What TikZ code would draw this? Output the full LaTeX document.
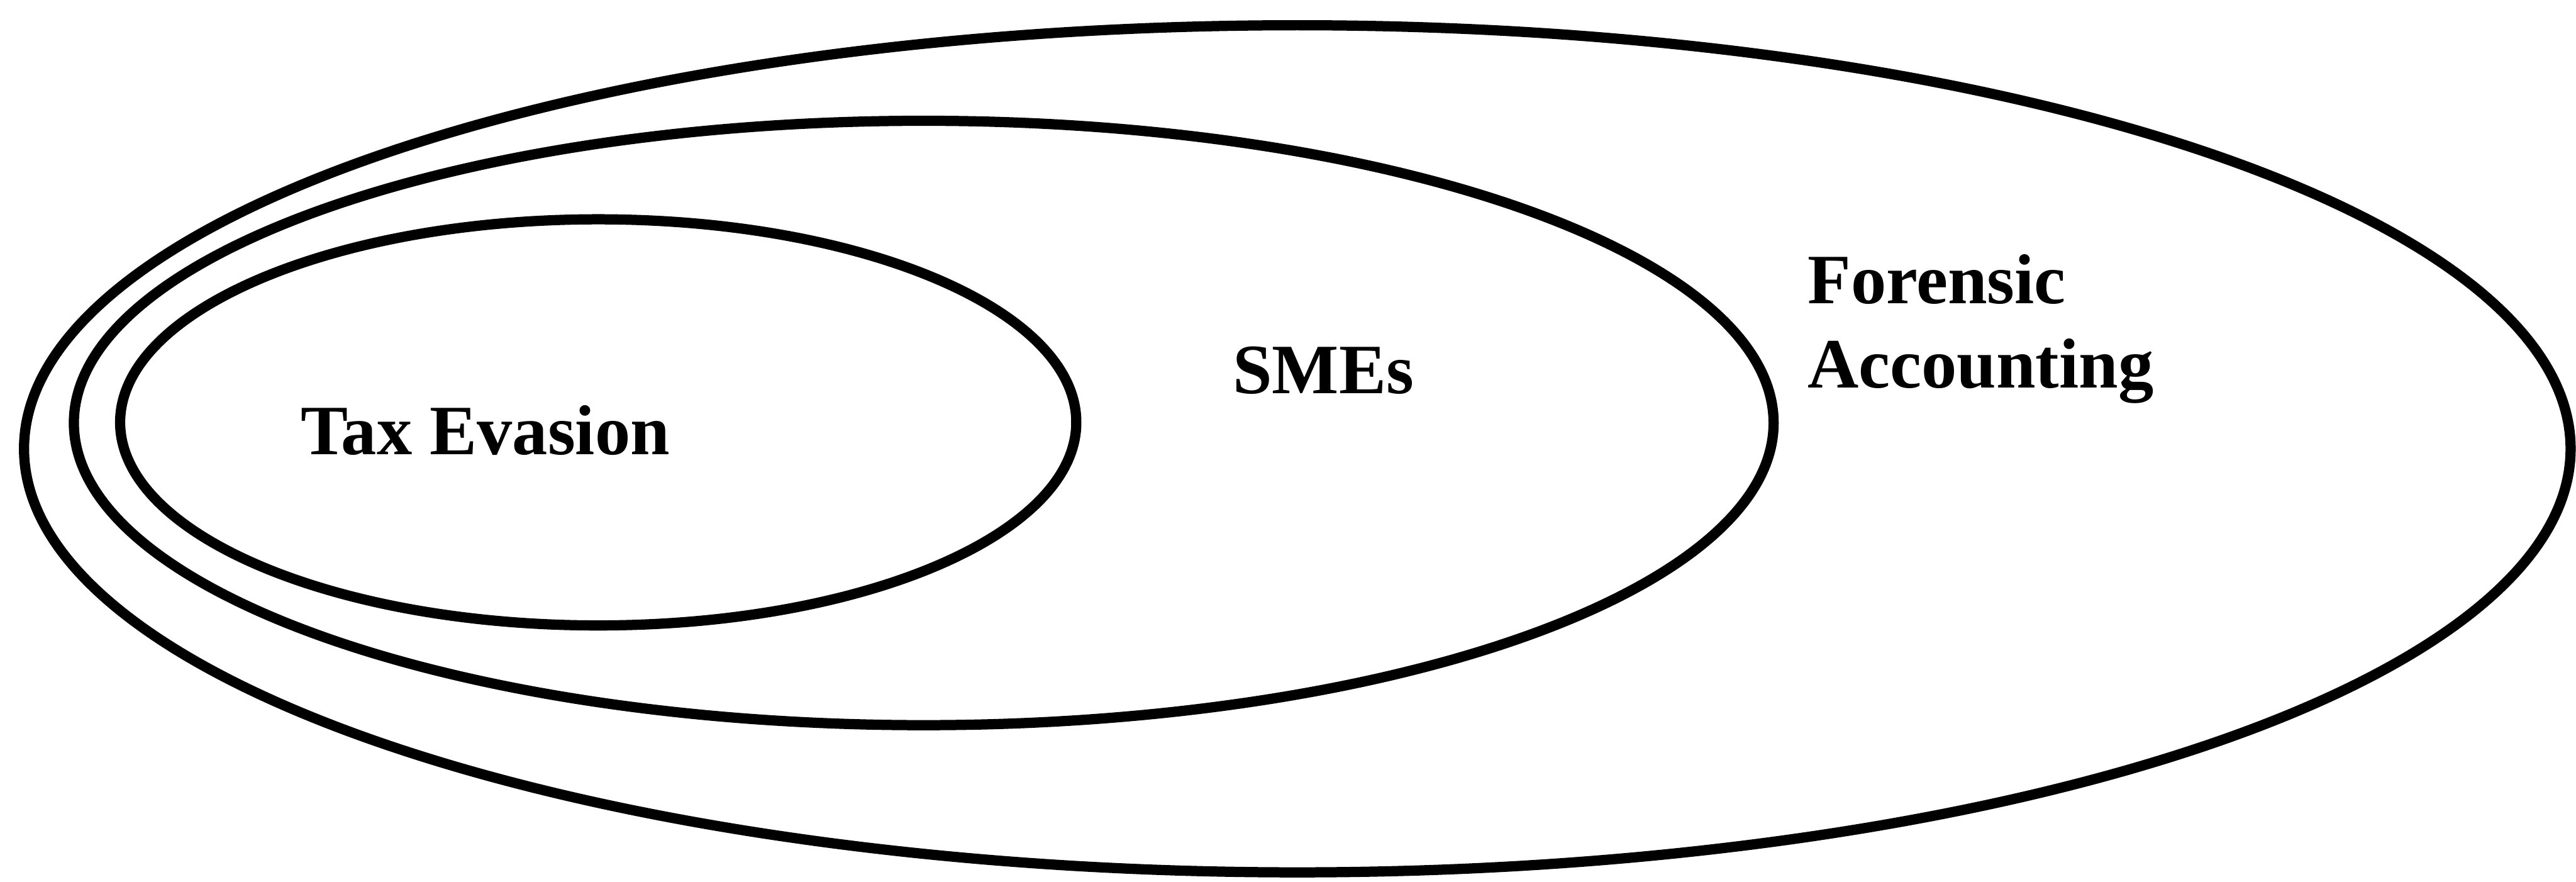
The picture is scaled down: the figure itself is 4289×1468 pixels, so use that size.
\documentclass[tikz,border=0pt]{standalone}
\usepackage{fontspec}
\setmainfont{Liberation Serif}
\usetikzlibrary{shapes.geometric}
\begin{document}
\begin{tikzpicture}[x=0.01cm,y=-0.01cm,
  ring/.style={draw=black,line width=0.17cm,ellipse,inner sep=0pt,outer sep=0pt},
  lbl/.style={inner sep=0pt,font=\fontsize{33.5}{40}\selectfont\bfseries,text=black}]
\useasboundingbox[fill=white] (0,0) rectangle (4289,1468);
\node[ring,minimum width=4240*0.01cm,minimum height=1410*0.01cm] (fa) at (2160,747) {};
\node[ring,minimum width=2830*0.01cm,minimum height=1006*0.01cm] (sme) at (1538,704) {};
\node[ring,minimum width=1592*0.01cm,minimum height=676*0.01cm] (tax) at (996,703) {};
\node[lbl,anchor=base west] (taxl) at (500,756) {Tax Evasion};
\node[lbl,anchor=base west] (smel) at (2052,655) {SMEs};
\node[lbl,anchor=base west,align=left] (fal) at (3009,646) {Forensic\\Accounting};
\end{tikzpicture}
\end{document}
